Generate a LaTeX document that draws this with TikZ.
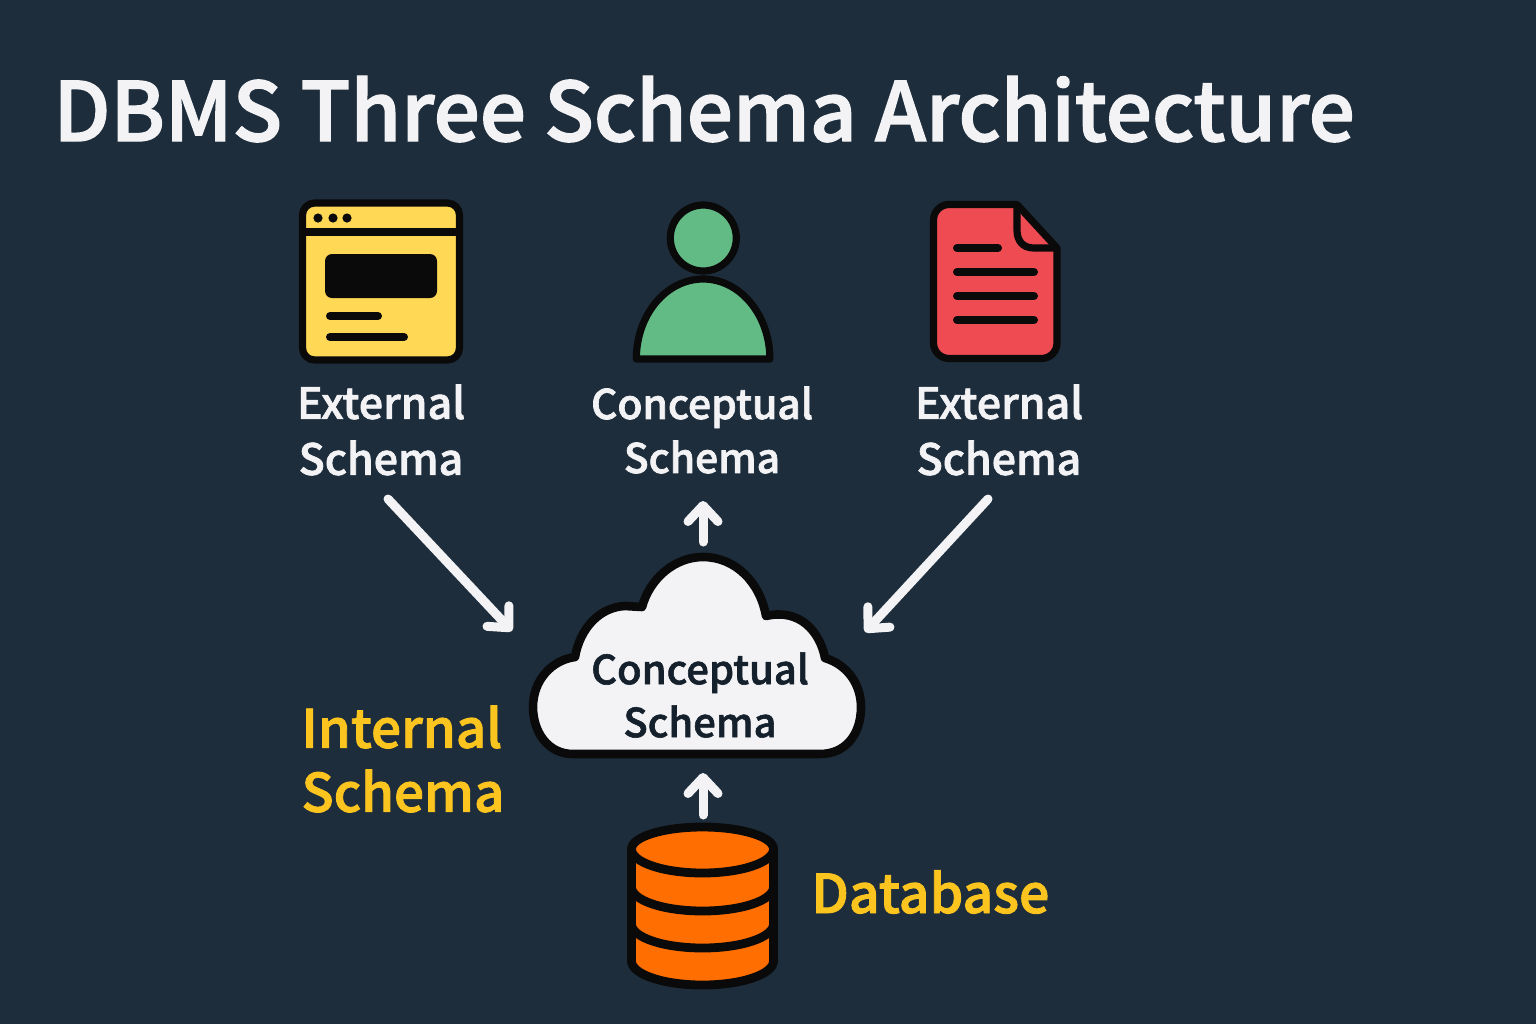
\documentclass[tikz,border=0pt]{standalone}
\usepackage{fontspec}
\setmainfont{Noto Sans CJK SC}
\newfontfamily\medf{Noto Sans CJK SC Medium}
\newcommand{\heavy}[2]{\special{pdf:code 2 Tr #1 w}#2\special{pdf:code 0 Tr 1 w}}
\usetikzlibrary{arrows.meta}
\definecolor{bgc}{HTML}{1D2D3C}
\definecolor{inkc}{HTML}{0A0A0A}
\definecolor{yellowc}{HTML}{FFD955}
\definecolor{greenc}{HTML}{62BA84}
\definecolor{redc}{HTML}{EF4B52}
\definecolor{orangec}{HTML}{FF6E00}
\definecolor{goldc}{HTML}{FBC41F}
\definecolor{whitec}{HTML}{F3F3F5}
\definecolor{cloudtxt}{HTML}{14202C}
\tikzset{
  x=0.5pt,y=-0.5pt,
  icon/.style={draw=inkc,line width=3.6pt,line join=round},
  bar/.style={draw=inkc,line width=4pt,line cap=round},
  lbl/.style={text=whitec,align=center,inner sep=0pt},
  goldlbl/.style={text=goldc,align=left,inner sep=0pt},
  conn/.style={draw=whitec,line width=4.5pt,line cap=round,line join=round,
    -{Straight Barb[round,angle'=45,length=8pt,width=15pt,line width=4.5pt]}},
}
\begin{document}
\begin{tikzpicture}
\useasboundingbox (0,0) rectangle (1536,1024);
\fill[bgc] (0,0) rectangle (1536,1024);
% title
\node[anchor=base west,inner sep=0pt,text=whitec,font=\medf\fontsize{40.8}{50}\selectfont] (title) at (53,141) {\heavy{0.7}{DBMS Three Schema Architecture}};
% browser icon
\draw[icon,fill=yellowc,rounded corners=6pt] (302.5,203) rectangle (459.5,360);
\draw[draw=inkc,line width=4pt] (304,232) -- (459,232);
\foreach \dx in {318,333,347}{\fill[inkc] (\dx,218) circle[radius=4.6];}
\fill[inkc,rounded corners=3.5pt] (325,254) rectangle (437,298);
\draw[bar] (330,316) -- (378,316);
\draw[bar] (330,337) -- (404,337);
% person icon
\draw[icon,fill=greenc] (636.3,359) arc[start angle=180,end angle=360,x radius=66.8,y radius=80] -- cycle;
\draw[icon,fill=greenc] (703.3,238) circle[radius=33];
% document icon
\draw[icon,fill=redc] (947,204.5) -- (1017,204.5) -- (1057,248) -- (1057,343) arc[start angle=0,end angle=90,radius=15.5] -- (949,358.5) arc[start angle=90,end angle=180,radius=15.5] -- (933.5,220) arc[start angle=180,end angle=270,radius=15.5] -- cycle;
\draw[icon] (1017,204.5) -- (1017,230) .. controls (1017,241) and (1023,248) .. (1034,248) -- (1057,248);
\draw[bar] (957,248) -- (998,248);
\draw[bar] (957,272) -- (1034,272);
\draw[bar] (957,296) -- (1034,296);
\draw[bar] (957,320) -- (1034,320);
% labels
\node[lbl,font=\medf\fontsize{21.5}{28}\selectfont] (extL) at (381,430) {\heavy{0.35}{External}\\\heavy{0.35}{Schema}};
\node[lbl,font=\medf\fontsize{20.4}{27}\selectfont] (conc) at (702,430) {\heavy{0.35}{Conceptual}\\\heavy{0.35}{Schema}};
\node[lbl,font=\medf\fontsize{21.5}{28}\selectfont] (extR) at (999,430) {\heavy{0.35}{External}\\\heavy{0.35}{Schema}};
% cloud
\draw[draw=inkc,line width=4.3pt,fill=whitec,line join=round]
 (573,754) .. controls (548,754) and (533,732) .. (533,707)
 .. controls (533,680) and (552,660) .. (575,657)
 .. controls (580,628) and (600,607) .. (625,606) -- (642,607)
 .. controls (650,578) and (675,557) .. (703,557)
 .. controls (735,557) and (760,582) .. (766,616)
 .. controls (800,608) and (820,632) .. (825,658)
 .. controls (848,665) and (861,685) .. (861,707)
 .. controls (861,735) and (845,754) .. (820,754) -- cycle;
\node[text=cloudtxt,align=center,inner sep=0pt,font=\medf\fontsize{20}{26.5}\selectfont] (cloudlbl) at (700,695) {\heavy{0.3}{Conceptual}\\\heavy{0.3}{Schema}};
% gold labels
\node[goldlbl,font=\medf\fontsize{26.5}{32}\selectfont] (intl) at (403,759) {\heavy{0.45}{Internal}\\\heavy{0.45}{Schema}};
\node[goldlbl,font=\medf\fontsize{26.8}{32}\selectfont,anchor=base west] (dbl) at (811,913) {\heavy{0.45}{Database}};
% database
\draw[icon,line width=4.4pt,fill=orangec] (631.5,849) -- (631.5,961) arc[start angle=180,end angle=0,x radius=71,y radius=24] -- (773.5,849) arc[start angle=0,end angle=-180,x radius=71,y radius=22] -- cycle;
\foreach \yy in {849,887,924}{\draw[draw=inkc,line width=4.4pt] (631.5,\yy) arc[start angle=180,end angle=0,x radius=71,y radius=24];}
% arrows
\coordinate (a1s) at (388,499);\coordinate (a1e) at (512,631);
\coordinate (a2s) at (703,542);\coordinate (a2e) at (703,501);
\coordinate (a3s) at (988,499);\coordinate (a3e) at (865,632);
\coordinate (a4s) at (703,815);\coordinate (a4e) at (703,773);
\draw[conn] (a1s) -- (a1e);
\draw[conn] (a2s) -- (a2e);
\draw[conn] (a3s) -- (a3e);
\draw[conn] (a4s) -- (a4e);
\end{tikzpicture}
\end{document}
